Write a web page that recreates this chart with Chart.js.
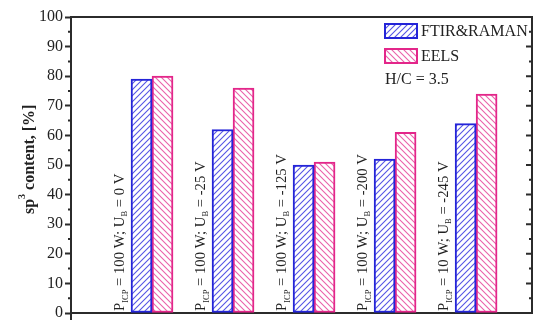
<!DOCTYPE html>
<html>
<head>
<meta charset="utf-8">
<script src="https://cdn.jsdelivr.net/npm/chart.js@4.4.1/dist/chart.umd.min.js"></script>
<style>
  html, body { margin: 0; padding: 0; background: #fff; }
</style>
</head>
<body>
<canvas id="chart" width="538" height="320"></canvas>
<script>
// data
const groupPos = [1, 2, 3, 4, 5]
const ftirRaman = [79, 62, 50, 52, 64]
const eels = [80, 76, 51, 61, 74]
const icpPower = ['100', '100', '100', '100', '10']
const biasVoltage = ['0', '-25', '-125', '-200', '-245']
const seriesNames = ['FTIR&RAMAN', 'EELS']
const ratioNote = 'H/C = 3.5'

const SERIF = '"Liberation Serif", "DejaVu Serif", serif'
const AXIS = '#2b2b2b'
const BLUE = '#2424d8'
const PINK = '#e3268a'

function hatch(color, up) {
    const s = 6
    const c = document.createElement('canvas')
    c.width = s; c.height = s
    const g = c.getContext('2d')
    g.fillStyle = '#fff'
    g.fillRect(0, 0, s, s)
    g.strokeStyle = color
    g.lineWidth = 1.1
    g.beginPath()
    if (up) {
        g.moveTo(-1, s + 1); g.lineTo(s + 1, -1)
        g.moveTo(-2, 2); g.lineTo(2, -2)
        g.moveTo(s - 2, s + 2); g.lineTo(s + 2, s - 2)
    } else {
        g.moveTo(-1, -1); g.lineTo(s + 1, s + 1)
        g.moveTo(s - 2, -2); g.lineTo(s + 2, 2)
        g.moveTo(-2, s - 2); g.lineTo(2, s + 2)
    }
    g.stroke()
    return g.createPattern(c, 'repeat')
}

// draws pieces [text, shift, size, weight] along the current x direction
function richText(ctx, parts, x, y) {
    let cx = x
    parts.forEach(([t, shift, size, weight]) => {
        ctx.font = (weight || 'normal') + ' ' + size + 'px ' + SERIF
        ctx.fillText(t, cx, y + shift)
        cx += ctx.measureText(t).width
    })
}

const decorations = {
    id: 'decorations',
    afterDatasetsDraw(chart) {
        const { ctx, chartArea: a, scales: { x, y } } = chart
        ctx.save()
        ctx.fillStyle = '#222'
        ctx.textBaseline = 'middle'
        ctx.textAlign = 'left'

        // rotated condition labels
        groupPos.forEach((p, i) => {
            ctx.save()
            ctx.translate(x.getPixelForValue(p) - 32, y.getPixelForValue(0) - 2)
            ctx.rotate(-Math.PI / 2)
            richText(ctx, [
                ['P', 0, 14.7],
                ['ICP', 6, 8.5],
                [' = ' + icpPower[i] + ' W; U', 0, 14.7],
                ['B', 5, 8.5],
                [' = ' + biasVoltage[i] + ' V', 0, 14.7]
            ], 0, 0)
            ctx.restore()
        })

        // legend
        chart.data.datasets.forEach((ds, i) => {
            const top = a.top + 7 + i * 25
            ctx.fillStyle = ds.backgroundColor
            ctx.fillRect(385, top, 32, 14)
            ctx.strokeStyle = ds.borderColor
            ctx.lineWidth = 2
            ctx.strokeRect(385, top, 32, 14)
            ctx.fillStyle = '#222'
            ctx.font = '16px ' + SERIF
            ctx.fillText(ds.label, 421, top + 8)
        })
        ctx.font = '16px ' + SERIF
        ctx.fillText(ratioNote, 385, a.top + 63)

        // y title
        ctx.save()
        ctx.translate(30, 214)
        ctx.rotate(-Math.PI / 2)
        richText(ctx, [
            ['sp', 0, 16, 'bold'],
            ['3', -8, 10, 'bold'],
            [' content, [%]', 0, 16, 'bold']
        ], 0, 0)
        ctx.restore()

        // frame: top and right, right ticks inward, minor ticks on the left
        ctx.strokeStyle = AXIS
        ctx.lineWidth = 2
        ctx.beginPath()
        ctx.moveTo(a.left, a.top); ctx.lineTo(a.right, a.top); ctx.lineTo(a.right, a.bottom)
        ctx.moveTo(a.left, a.bottom); ctx.lineTo(a.left, a.bottom + 8)
        for (let v = 0; v <= 100; v += 5) {
            const py = y.getPixelForValue(v)
            const len = v % 10 === 0 ? 6 : 3
            ctx.moveTo(a.right, py); ctx.lineTo(a.right - len, py)
            if (v % 10 !== 0) { ctx.moveTo(a.left, py); ctx.lineTo(a.left - 3, py) }
        }
        ctx.stroke()
        ctx.restore()
    }
}

new Chart(document.getElementById('chart'), {
    type: 'bar',
    data: {
        datasets: [
            {
                label: seriesNames[0],
                data: groupPos.map((p, i) => ({ x: p, y: ftirRaman[i] })),
                backgroundColor: hatch('#5656e4', true),
                borderColor: BLUE,
                borderWidth: 2,
                borderSkipped: false
            },
            {
                label: seriesNames[1],
                data: groupPos.map((p, i) => ({ x: p, y: eels[i] })),
                backgroundColor: hatch('#ea62aa', false),
                borderColor: PINK,
                borderWidth: 2,
                borderSkipped: false
            }
        ]
    },
    options: {
        responsive: false,
        devicePixelRatio: 1,
        animation: false,
        barThickness: 21,
        layout: { padding: { top: 17, right: 6, left: 0, bottom: 0 } },
        plugins: { legend: { display: false }, tooltip: { enabled: false } },
        scales: {
            x: {
                type: 'linear',
                min: 0,
                max: 5.69,
                offset: false,
                ticks: { display: false },
                grid: { display: false },
                border: { color: AXIS, width: 2 },
                afterFit: s => { s.height = 7; s.paddingLeft = 0; s.paddingRight = 0 }
            },
            y: {
                min: 0,
                max: 100,
                ticks: {
                    stepSize: 10,
                    padding: 2,
                    color: '#222',
                    font: { family: SERIF, size: 16 }
                },
                grid: {
                    drawOnChartArea: false,
                    tickLength: 6,
                    tickWidth: 2,
                    tickColor: AXIS
                },
                border: { color: AXIS, width: 2 },
                afterFit: s => { s.width = 71; s.paddingTop = 0; s.paddingBottom = 0 }
            }
        }
    },
    plugins: [decorations]
})
</script>
</body>
</html>
